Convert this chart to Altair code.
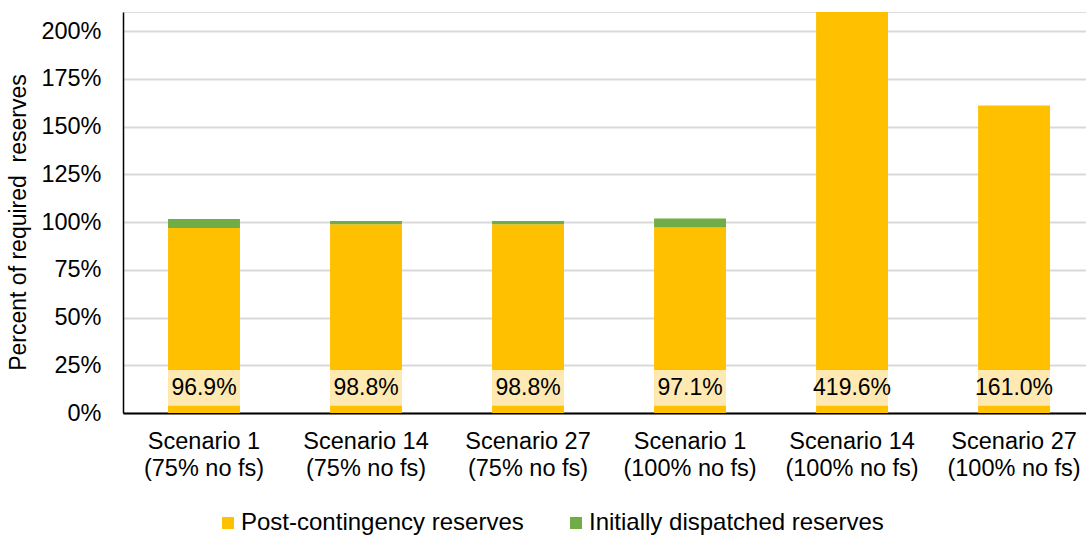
import altair as alt
import pandas as pd

# Scenario categories ("|" marks the line break in the axis label)
scenarios = [
    "Scenario 1|(75% no fs)",
    "Scenario 14|(75% no fs)",
    "Scenario 27|(75% no fs)",
    "Scenario 1|(100% no fs)",
    "Scenario 14|(100% no fs)",
    "Scenario 27|(100% no fs)",
]
# Share of required reserves
post_contingency = [0.969, 0.988, 0.988, 0.971, 4.196, 1.610]
initially_dispatched = [0.047, 0.017, 0.017, 0.048, 0.0, 0.0]

series_names = ["Post-contingency reserves", "Initially dispatched reserves"]
series_colors = ["#FFC000", "#70AD47"]

rows = []
for s, p, i in zip(scenarios, post_contingency, initially_dispatched):
    rows.append({"scenario": s, "series": series_names[0], "value": p, "order": 0})
    rows.append({"scenario": s, "series": series_names[1], "value": i, "order": 1})
long_df = pd.DataFrame(rows)
label_df = pd.DataFrame({"scenario": scenarios, "value": post_contingency})

FONT = "Liberation Sans"
FS = 23.5

x_enc = alt.X(
    "scenario:N",
    sort=scenarios,
    scale=alt.Scale(paddingInner=0.556, paddingOuter=0.25, align=0.556),
    axis=alt.Axis(
        title=None,
        labelAngle=0,
        labelExpr="split(datum.label, '|')",
        labelFontSize=FS,
        labelLineHeight=27,
        labelPadding=16,
        labelColor="#000000",
        labelFont=FONT,
        ticks=False,
        domainColor="#000000",
        domainWidth=2,
        grid=False,
    ),
)

y_scale = alt.Scale(domain=[0, 2.1], nice=False, zero=True)

bars = (
    alt.Chart(long_df)
    .mark_bar(clip=True)
    .encode(
        x=x_enc,
        y=alt.Y(
            "sum(value):Q",
            stack="zero",
            scale=y_scale,
            axis=alt.Axis(
                title="Percent of required\u00a0 reserves",
                titleFontSize=23,
                titleFont=FONT,
                titleFontWeight="normal",
                titleColor="#000000",
                titlePadding=10,
                titleY=210,
                format=".0%",
                values=[0, 0.25, 0.5, 0.75, 1.0, 1.25, 1.5, 1.75, 2.0],
                labelFontSize=FS,
                labelFont=FONT,
                labelColor="#000000",
                labelPadding=22,
                ticks=False,
                domainColor="#000000",
                domainWidth=1.5,
                gridColor="#D9D9D9",
                gridWidth=2,
            ),
        ),
        color=alt.Color(
            "series:N",
            scale=alt.Scale(domain=series_names, range=series_colors),
            legend=alt.Legend(
                title=None,
                orient="none",
                direction="horizontal",
                legendX=93,
                legendY=499,
                symbolType="square",
                symbolSize=144,
                symbolStrokeWidth=0,
                labelFontSize=24,
                labelFont=FONT,
                labelColor="#000000",
                labelOffset=1,
                labelLimit=0,
                columnPadding=40,
                padding=0,
            ),
        ),
        order=alt.Order("order:Q"),
    )
)

# Value label boxes near the bar base
label_box = (
    alt.Chart(label_df)
    .mark_bar(color="#FFE9B3")
    .encode(x=alt.X("scenario:N", sort=scenarios), y=alt.datum(0.038), y2=alt.datum(0.225))
)

label_text = (
    alt.Chart(label_df)
    .mark_text(fontSize=23, font=FONT, color="#000000", baseline="middle")
    .encode(
        x=alt.X("scenario:N", sort=scenarios),
        y=alt.datum(0.131),
        text=alt.Text("value:Q", format=".1%"),
    )
)

chart = (
    alt.layer(bars, label_box, label_text)
    .properties(
        width=963,
        height=401,
        autosize=alt.AutoSizeParams(type="none"),
        padding={"left": 123, "top": 12, "right": 0, "bottom": 123},
    )
    .configure_view(stroke=None)
    .configure(background="#FFFFFF")
)

chart.save("out.html", embed_options={"renderer": "svg", "actions": False})
